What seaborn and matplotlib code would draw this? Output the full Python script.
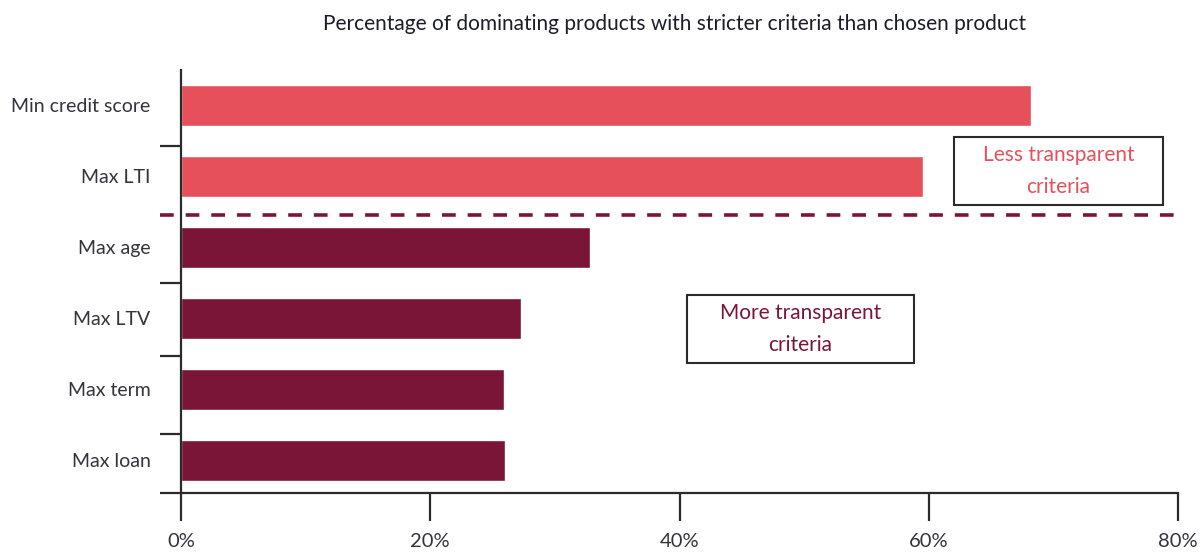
import matplotlib
matplotlib.use("Agg")
import matplotlib.pyplot as plt
import matplotlib.patches as mpatches
import matplotlib.transforms as mtransforms
from matplotlib.ticker import FixedLocator, PercentFormatter
import seaborn as sns
import pandas as pd

categories = ["Min credit score", "Max LTI", "Max age", "Max LTV", "Max term", "Max loan"]
values = [68.2, 59.5, 32.8, 27.3, 25.9, 26.0]
groups = ["Less", "Less", "More", "More", "More", "More"]
x_ticks = [0, 20, 40, 60, 80]
title = "Percentage of dominating products with stricter criteria than chosen product"
box_less = "Less transparent\ncriteria"
box_more = "More transparent\ncriteria"

LIGHT = "#E5505A"
DARK = "#7B1538"
TXT = "#33333d"

sns.set_theme(style="white")
plt.rcParams["font.family"] = ["Lato", "DejaVu Sans"]

df = pd.DataFrame({"cat": categories, "val": values, "grp": groups})

W, H = 1203, 554
fig = plt.figure(figsize=(W / 100, H / 100), dpi=100)
L, R, T, B = 181, 1178, 70, 493
ax = fig.add_axes([L / W, 1 - B / H, (R - L) / W, (B - T) / H])

sns.barplot(data=df, x="val", y="cat", hue="grp", palette={"Less": LIGHT, "More": DARK},
            dodge=False, width=0.58, legend=False, ax=ax, saturation=1)

ax.set_xlim(0, 80)
ax.set_ylim(5.46, -0.5)
ax.set_xlabel("")
ax.set_ylabel("")

for s in ["top", "right"]:
    ax.spines[s].set_visible(False)
for s in ["left", "bottom"]:
    ax.spines[s].set_color("#2b2b2b")
    ax.spines[s].set_linewidth(1.6)

ax.xaxis.set_major_locator(FixedLocator(x_ticks))
ax.xaxis.set_major_formatter(PercentFormatter(decimals=0))
ax.tick_params(axis="x", which="major", direction="out", length=20, width=1.6,
               color="#2b2b2b", pad=9, labelsize=14.5, labelcolor=TXT, bottom=True)

ax.tick_params(axis="y", which="major", length=0, pad=22, labelsize=14, labelcolor=TXT, left=True)
ax.yaxis.set_minor_locator(FixedLocator([0.57, 2.5, 3.53, 4.63, 5.46]))
ax.tick_params(axis="y", which="minor", direction="out", length=15, width=1.6,
               color="#2b2b2b", left=True)

# dashed separator between groups
trans = mtransforms.blended_transform_factory(ax.transAxes, ax.transData)
ln, = ax.plot([-21 / (R - L), 1.0], [1.55, 1.55], transform=trans, color=DARK,
              lw=2.6, clip_on=False)
ln.set_dashes([3.8, 3.3])

# annotation boxes
def box(x0, x1, y0, y1, text, color):
    ax.add_patch(mpatches.Rectangle((x0, y0), x1 - x0, y1 - y0, transform=ax.transAxes,
                                    fill=False, edgecolor="#2b2b2b", lw=1.5, clip_on=False))
    ax.text((x0 + x1) / 2, (y0 + y1) / 2, text, transform=ax.transAxes, ha="center",
            va="center", color=color, fontsize=15, linespacing=1.7)

box(0.775, 0.985, 0.681, 0.8416, box_less, LIGHT)
box(0.5075, 0.735, 0.307, 0.468, box_more, DARK)

fig.text(675 / W, 1 - 24 / H, title, ha="center", va="center", fontsize=15, color="#1c1c2a")

fig.savefig("out.png", dpi=100)
